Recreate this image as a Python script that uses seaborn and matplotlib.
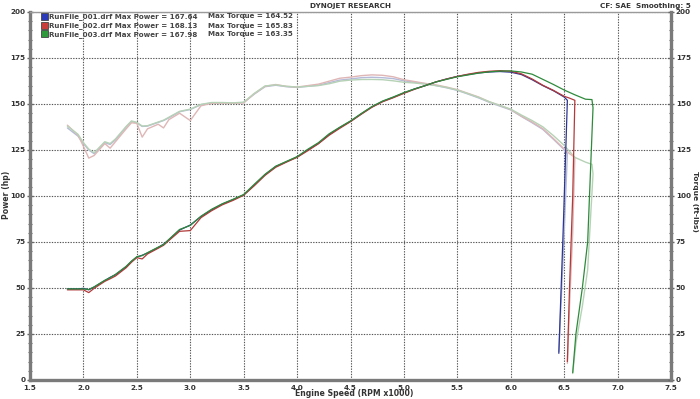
import matplotlib
matplotlib.use("Agg")
import numpy as np
import seaborn as sns
import matplotlib.pyplot as plt
from matplotlib.patches import Rectangle
from matplotlib.ticker import MultipleLocator, FormatStrFormatter

# engine speed (RPM x1000) shared by the main part of all three pulls
rpm_common = [1.85, 1.95, 2.0, 2.05, 2.1, 2.2, 2.25, 2.3, 2.4, 2.45,
              2.5, 2.55, 2.6, 2.7, 2.75, 2.8, 2.9, 3.0, 3.1, 3.2,
              3.3, 3.4, 3.5, 3.6, 3.7, 3.8, 3.9, 4.0, 4.1, 4.2,
              4.3, 4.4, 4.5, 4.6, 4.7, 4.8, 4.9, 5.0, 5.1, 5.2,
              5.3, 5.4, 5.5, 5.6, 5.7, 5.8, 5.9, 6.0, 6.1, 6.2,
              6.3, 6.4, 6.5]

# run 001
power_001 = [49.5, 49.5, 49.8, 49.0, 50.5, 54.0, 55.8, 57.2, 61.5, 64.5,
             66.8, 67.8, 69.0, 72.0, 73.8, 76.2, 81.5, 84.2, 88.8, 92.5,
             95.6, 98.0, 100.6, 106.0, 111.6, 116.0, 118.6, 121.2, 125.0, 128.6,
             133.4, 137.2, 140.6, 144.6, 148.4, 151.4, 153.6, 156.0, 158.2, 160.0,
             162.0, 163.6, 165.0, 166.0, 166.9, 167.4, 167.64, 167.3, 166.0, 163.2,
             160.0, 157.2, 153.8]
torque_001 = [137.0, 132.5, 128.5, 125.0, 123.0, 129.0, 128.0, 130.5, 137.5, 140.5,
              139.8, 137.8, 138.0, 140.0, 141.0, 142.5, 145.8, 147.0, 149.6, 150.6,
              150.6, 150.4, 150.8, 155.4, 159.4, 160.2, 159.4, 159.0, 159.6, 160.2,
              161.6, 163.0, 163.6, 164.3, 164.52, 164.3, 163.8, 162.6, 161.8, 161.0,
              160.0, 158.8, 157.4, 155.4, 153.3, 150.9, 148.8, 146.8, 143.2, 139.8,
              136.2, 130.8, 125.2]
rpm_tail_001 = [6.53, 6.49, 6.45]
power_tail_001 = [152.0, 80.0, 14.5]
torque_tail_001 = [123.0, 66.0, 15.5]

# run 002
power_002 = [49.0, 49.0, 49.0, 47.5, 49.8, 53.6, 55.0, 56.5, 61.0, 64.0,
             66.5, 65.8, 68.5, 71.6, 73.2, 75.8, 80.8, 81.2, 88.2, 92.0,
             95.2, 97.6, 100.4, 105.6, 111.2, 115.6, 118.4, 121.0, 124.6, 128.4,
             133.0, 136.8, 140.4, 144.4, 148.2, 151.2, 153.4, 155.8, 158.0, 160.0,
             162.0, 163.6, 165.0, 166.2, 167.2, 167.8, 168.13, 167.8, 166.4, 163.6,
             160.2, 157.4, 154.2]
torque_002 = [138.5, 133.0, 127.0, 120.6, 122.0, 128.5, 126.0, 129.5, 136.5, 139.8,
              139.5, 132.0, 136.5, 139.0, 137.0, 141.5, 145.0, 141.0, 149.0, 150.4,
              150.5, 150.4, 150.6, 155.6, 159.6, 160.6, 159.6, 159.2, 160.0, 160.8,
              162.4, 164.0, 164.6, 165.4, 165.83, 165.6, 164.8, 163.2, 162.2, 161.2,
              160.4, 159.2, 157.8, 155.8, 153.8, 151.2, 149.2, 147.0, 143.4, 140.2,
              136.6, 131.2, 125.6]
rpm_tail_002 = [6.55, 6.6, 6.58, 6.55, 6.53]
power_tail_002 = [153.2, 152.0, 100.0, 50.0, 10.0]
torque_tail_002 = [123.0, 121.0, 80.0, 40.0, 9.0]

# run 003
power_003 = [49.5, 49.5, 49.5, 49.2, 50.6, 54.2, 55.6, 57.4, 61.8, 64.6,
             67.0, 67.6, 69.2, 72.2, 73.6, 76.4, 81.8, 84.0, 89.0, 92.8,
             95.8, 98.2, 100.8, 106.4, 111.8, 116.2, 118.8, 121.4, 125.4, 129.0,
             133.8, 137.4, 140.8, 144.8, 148.6, 151.6, 153.8, 156.2, 158.2, 160.0,
             162.0, 163.4, 164.8, 165.8, 166.8, 167.5, 167.9, 167.98, 167.4, 166.2,
             163.4, 160.6, 157.6]
torque_003 = [138.0, 133.5, 129.0, 125.5, 123.5, 129.5, 128.5, 131.0, 137.8, 140.8,
              140.0, 138.0, 138.2, 140.2, 141.2, 142.8, 146.0, 147.2, 149.8, 150.8,
              150.8, 150.6, 151.0, 155.8, 159.8, 160.4, 159.6, 159.2, 159.6, 160.0,
              161.0, 162.4, 163.0, 163.3, 163.35, 163.2, 162.6, 161.8, 161.4, 160.8,
              160.0, 159.0, 157.6, 155.6, 153.6, 151.2, 149.2, 147.2, 144.0, 141.0,
              137.6, 132.8, 127.5]
rpm_tail_003 = [6.6, 6.7, 6.76, 6.77, 6.72, 6.67, 6.61, 6.58]
power_tail_003 = [155.0, 152.6, 152.4, 148.0, 75.0, 50.0, 25.0, 4.0]
torque_tail_003 = [121.0, 118.4, 117.2, 112.0, 60.0, 40.0, 20.0, 3.5]

run_names = ["RunFile_001.drf", "RunFile_002.drf", "RunFile_003.drf"]
max_power = ["167.64", "168.13", "167.98"]
max_torque = ["164.52", "165.83", "163.35"]

power_colors = ["#2c3590", "#b23a3a", "#2f8a3c"]
torque_colors = ["#b4bad8", "#dfb6b6", "#b6d2b6"]
legend_colors = ["#2b3ab8", "#c83c3c", "#2f9a3c"]

runs = [
    (rpm_common + rpm_tail_001, power_001 + power_tail_001, torque_001 + torque_tail_001),
    (rpm_common + rpm_tail_002, power_002 + power_tail_002, torque_002 + torque_tail_002),
    (rpm_common + rpm_tail_003, power_003 + power_tail_003, torque_003 + torque_tail_003),
]

sns.set_style("white")
plt.rcParams["font.family"] = ["DejaVu Sans"]

fig = plt.figure(figsize=(7, 3.99), dpi=100)
ax = fig.add_axes([30 / 700, 19 / 399, 641 / 700, 368 / 399])
ax2 = ax.twinx()

# torque first (light), then power on top
for (x, p, t), c in zip(runs, torque_colors):
    sns.lineplot(x=x, y=t, ax=ax, color=c, lw=1.0, sort=False, estimator=None)
for (x, p, t), c in zip(runs, power_colors):
    sns.lineplot(x=x, y=p, ax=ax, color=c, lw=0.9, sort=False, estimator=None)

for a in (ax, ax2):
    a.set_xlim(1.5, 7.5)
    a.set_ylim(0, 200)
    a.yaxis.set_major_locator(MultipleLocator(25))
    a.yaxis.set_minor_locator(MultipleLocator(5))
    a.tick_params(which="major", direction="inout", length=5, width=1, color="#666",
                  labelsize=5.2, labelcolor="#333", pad=1)
    a.tick_params(which="minor", direction="inout", length=3, width=0.8, color="#666")
    for lab in a.get_yticklabels():
        lab.set_fontweight("bold")
    a.set_ylabel("")

ax.xaxis.set_major_locator(MultipleLocator(0.5))
ax.xaxis.set_minor_locator(MultipleLocator(0.1))
ax.xaxis.set_major_formatter(FormatStrFormatter("%.1f"))
for lab in ax.get_xticklabels():
    lab.set_fontweight("bold")
ax.set_xlabel("")
ax.grid(which="major", linestyle=(0, (1.2, 1.2)), color="#555", lw=0.8)

for s in ("left", "bottom"):
    ax.spines[s].set_color("#7a7a7a")
    ax.spines[s].set_linewidth(2.4)
ax.spines["right"].set_visible(False)
ax.spines["top"].set_color("#9a9a9a")
ax.spines["top"].set_linewidth(1.0)
for s in ("left", "bottom", "top"):
    ax2.spines[s].set_visible(False)
ax2.spines["right"].set_color("#7a7a7a")
ax2.spines["right"].set_linewidth(2.4)
ax2.tick_params(axis="y", left=False, labelleft=False, right=True, labelright=True)

# legend block
rows_y = [0.988, 0.963, 0.940]
for i in range(3):
    ax.add_patch(Rectangle((0.017, rows_y[i] - 0.009), 0.011, 0.019, transform=ax.transAxes,
                           facecolor=legend_colors[i], edgecolor="#444", lw=0.6, zorder=5))
    ax.text(0.030, rows_y[i], f"{run_names[i]} Max Power = {max_power[i]}",
            transform=ax.transAxes, fontsize=5.1, fontweight="bold", color="#444",
            va="center", ha="left")
    ax.text(0.278, rows_y[i], f"Max Torque = {max_torque[i]}",
            transform=ax.transAxes, fontsize=5.1, fontweight="bold", color="#444",
            va="center", ha="left")

fig.text(351 / 700, 1 - 6 / 399, "DYNOJET RESEARCH", fontsize=5.2, fontweight="bold",
         color="#333", ha="center", va="center")
fig.text(691 / 700, 1 - 6 / 399, "CF: SAE  Smoothing: 5", fontsize=5.2, fontweight="bold",
         color="#333", ha="right", va="center")
fig.text(354 / 700, 1 - 394 / 399, "Engine Speed (RPM x1000)", fontsize=5.6,
         fontweight="bold", color="#333", ha="center", va="center")
fig.text(7 / 700, 1 - 195 / 399, "Power (hp)", fontsize=5.6, fontweight="bold",
         color="#333", ha="center", va="center", rotation=90)
fig.text(695.5 / 700, 1 - 201 / 399, "Torque (ft-lbs)", fontsize=5.4, fontweight="bold",
         color="#333", ha="center", va="center", rotation=270)

fig.savefig("out.png", dpi=100)
